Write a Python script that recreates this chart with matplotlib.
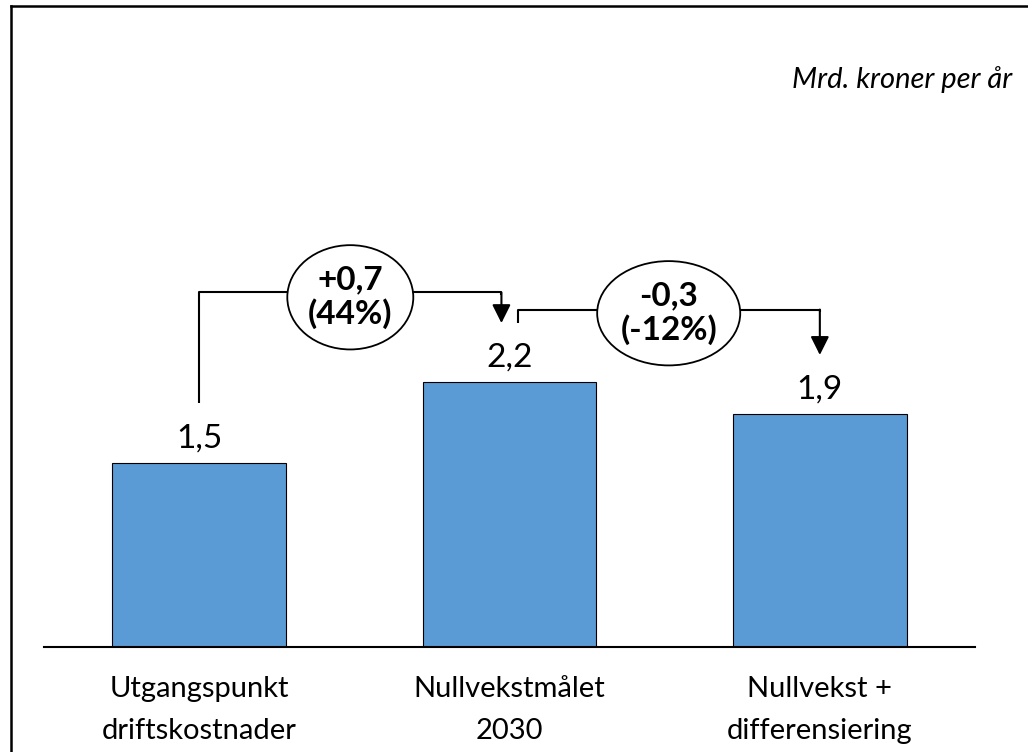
#!/usr/bin/env python3
"""Driftskostnader: utgangspunkt vs nullvekstmålet 2030 vs nullvekst + differensiering."""
import matplotlib
matplotlib.use("Agg")
import matplotlib.pyplot as plt
from matplotlib.patches import Ellipse
from matplotlib.lines import Line2D

plt.rcParams['font.family'] = ['Lato', 'DejaVu Sans']

categories = ["Utgangspunkt\ndriftskostnader", "Nullvekstmålet\n2030", "Nullvekst +\ndifferensiering"]
values = [1.5, 2.16, 1.9]
value_labels = ["1,5", "2,2", "1,9"]
change_labels = ["+0,7\n(44%)", "-0,3\n(-12%)"]
unit_label = "Mrd. kroner per år"

bar_color = "#5B9BD5"

fig = plt.figure(figsize=(10.28, 7.52), dpi=100)
W, H = 1028, 752
ax = fig.add_axes([44 / W, (H - 647) / H, 931 / W, 547 / H])

x = list(range(len(values)))
ax.bar(x, values, width=0.56, color=bar_color, edgecolor="black", linewidth=0.8, zorder=2)

for xi, v, lab in zip(x, values, value_labels):
    ax.text(xi, v + 0.08, lab, ha="center", va="bottom", fontsize=24)

# category labels under the baseline
for xi, cat in zip(x, categories):
    ax.text(xi, -0.24, cat, ha="center", va="top", fontsize=21,
            linespacing=1.75, clip_on=False)

ax.set_xlim(-0.5, 2.5)
ax.set_ylim(0, 547 / 122.7)
ax.set_xticks([])
ax.set_yticks([])
for s in ["top", "left", "right"]:
    ax.spines[s].set_visible(False)
ax.spines["bottom"].set_linewidth(1.5)

# connectors between bars
label_gap = 0.48
brackets = [2.89, 2.75]
ell_w = [0.406, 0.461]
starts = [0.0, 1.026]
ends = [0.974, 2.0]
for i in range(2):
    y0 = values[i] + label_gap + (0.01 if i == 0 else 0.0)
    y1 = values[i + 1] + label_gap
    yb = brackets[i]
    xs, xe = starts[i], ends[i]
    ax.plot([xs, xs, xe, xe], [y0, yb, yb, yb - 0.02], color="black", lw=1.5,
            clip_on=False, zorder=3, solid_capstyle="butt")
    ax.annotate("", xy=(xe, y1), xytext=(xe, yb),
                arrowprops=dict(arrowstyle="-|>", mutation_scale=28, lw=1.5,
                                color="black", shrinkA=0, shrinkB=0),
                annotation_clip=False, zorder=3)
    xm = (xs + xe) / 2
    ym = yb - 0.04 if i == 0 else yb - 0.03
    ax.add_patch(Ellipse((xm, ym), ell_w[i], 0.85, facecolor="white",
                         edgecolor="black", lw=1.3, zorder=4, clip_on=False))
    ax.text(xm, ym, change_labels[i], ha="center", va="center", fontsize=24,
            fontweight="bold", linespacing=1.15, zorder=5)

fig.text(1012 / W, 1 - 80 / H, unit_label, ha="right", va="center",
         fontsize=21, style="italic")

# frame (left and top edges)
fig.add_artist(Line2D([11 / W, 11 / W], [0, 1 - 6 / H], color="black", lw=1.8,
                      transform=fig.transFigure))
fig.add_artist(Line2D([11 / W, 1], [1 - 6 / H, 1 - 6 / H], color="black", lw=1.8,
                      transform=fig.transFigure))

fig.savefig("out.png", dpi=100)
